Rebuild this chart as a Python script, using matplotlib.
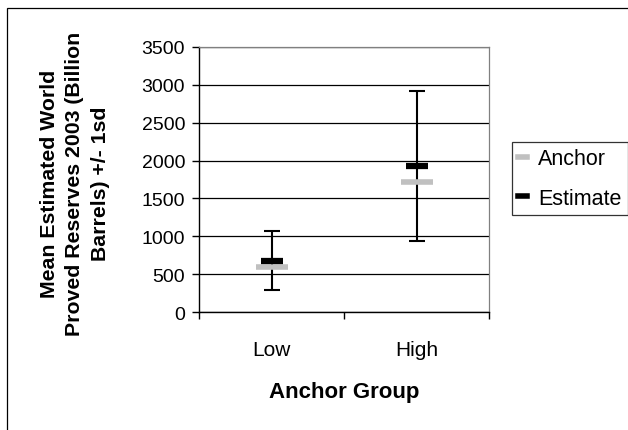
import matplotlib
matplotlib.use("Agg")
import matplotlib.pyplot as plt
from matplotlib.lines import Line2D
from matplotlib.patches import Rectangle

categories = ["Low", "High"]
anchor = [590, 1720]
estimate = [680, 1925]
sd = [385, 990]

plt.rcParams['font.family'] = ['Liberation Sans', 'DejaVu Sans']

W, H = 628, 431
fig = plt.figure(figsize=(W / 100, H / 100), dpi=100)

# outer chart frame
fig.patches.append(Rectangle((7 / W, -0.05), 1.2, 1 - 9 / H + 0.05,
                             transform=fig.transFigure, fill=False,
                             edgecolor='black', linewidth=0.9, zorder=0))

ax = fig.add_axes([199 / W, 1 - 313 / H, 290 / W, 265 / H])
x = [0, 1]
ax.errorbar(x, estimate, yerr=sd, fmt='none', ecolor='black', elinewidth=1.5,
            capsize=5.8, capthick=1.5, zorder=3)
ax.plot(x, anchor, linestyle='none', marker='_', markersize=23,
        markeredgewidth=4, color='#c0c0c0', zorder=4)
ax.plot(x, estimate, linestyle='none', marker='_', markersize=16,
        markeredgewidth=4.5, color='black', zorder=5)

ax.set_xlim(-0.5, 1.5)
ax.set_ylim(0, 3500)
ax.set_yticks(range(0, 3501, 500))
ax.set_xticks([-0.5, 0.5, 1.5], minor=False)
ax.set_xticklabels([])
ax.set_xticks(x, minor=True)
ax.set_xticklabels(categories, minor=True)
ax.tick_params(axis='x', which='minor', length=0, pad=20, labelsize=15)
ax.tick_params(axis='x', which='major', length=5, width=1, direction='out')
ax.tick_params(axis='y', length=5, width=1, direction='out', labelsize=14, pad=5)
ax.yaxis.grid(True, color='black', linewidth=0.9)
ax.set_axisbelow(True)
for s in ['top', 'right']:
    ax.spines[s].set_color('#808080')
    ax.spines[s].set_linewidth(0.9)
for s in ['left', 'bottom']:
    ax.spines[s].set_color('black')
    ax.spines[s].set_linewidth(1)

ax.set_xlabel("Anchor Group", fontsize=16, fontweight='bold', labelpad=16)
fig.text(75 / W, 1 - 184 / H,
         "Mean Estimated World\nProved Reserves 2003 (Billion\nBarrels) +/- 1sd",
         rotation=90, ha='center', va='center', fontsize=15.3, fontweight='bold',
         linespacing=1.45)

handles = [Line2D([], [], color='#c0c0c0', lw=4),
           Line2D([], [], color='black', lw=4)]
leg = fig.legend(handles, ["Anchor", "Estimate"], loc='upper left',
                 bbox_to_anchor=(512 / W, 1 - 143 / H), frameon=True,
                 fancybox=False, edgecolor='black', fontsize=15.5,
                 handlelength=0.4, handletextpad=0.5, borderpad=0.3,
                 labelspacing=0.85, borderaxespad=0)
leg.get_frame().set_linewidth(0.9)

fig.savefig("out.png", dpi=100)
